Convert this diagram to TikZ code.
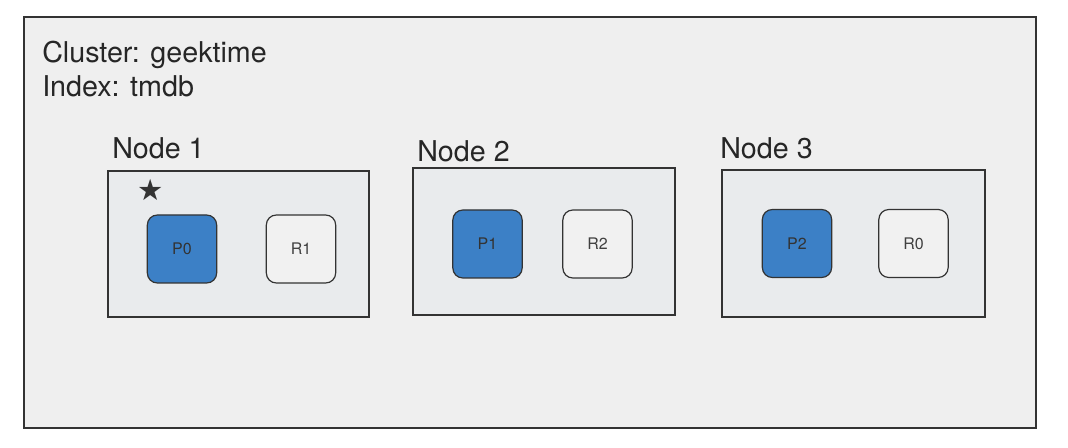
\documentclass[tikz,border=0pt]{standalone}
\usepackage{fontspec}
\setmainfont{TeX Gyre Heros}
\newfontfamily\symfont{DejaVu Sans}

\definecolor{clusterbg}{HTML}{EFEFEF}
\definecolor{hostbg}{HTML}{E9EBED}
\definecolor{primaryblue}{HTML}{3C80C6}
\definecolor{replicabg}{HTML}{F1F1F1}
\definecolor{edgegray}{HTML}{333333}

\tikzset{
	hostbox/.style={draw=edgegray, line width=0.9pt, fill=hostbg},
	hostlabel/.style={anchor=west, inner sep=0pt, font=\fontsize{21.5}{24}\selectfont, text=black!85},
	shard/.style={draw=edgegray, line width=0.9pt, rounded corners=7.5pt, minimum width=52pt, minimum height=51pt, inner sep=0pt, font=\fontsize{12}{14}\selectfont},
	primary/.style={shard, fill=primaryblue, text=black!80},
	replica/.style={shard, fill=replicabg, text=black!75}
}

\begin{document}
\begin{tikzpicture}[x=0.75pt, y=-0.75pt]
	\useasboundingbox (0,0) rectangle (1068,448);
	\fill[white] (0,0) rectangle (1068,448);

	% cluster
	\draw[draw=edgegray, line width=0.9pt, fill=clusterbg] (24,17) rectangle (1036,428);
	\node[anchor=west, inner sep=0pt, align=left, font=\fontsize{21.5}{25.5}\selectfont, text=black!85] (title) at (42,69) {Cluster: geektime\\Index: tmdb};

	% hosts
	\draw[hostbox] (108,171) rectangle (369,317);
	\draw[hostbox] (413,168) rectangle (675,315);
	\draw[hostbox] (722,170) rectangle (985,317);
	\node[hostlabel] (n1) at (112,148) {Node 1};
	\node[hostlabel] (n2) at (417,151) {Node 2};
	\node[hostlabel] (n3) at (720,148) {Node 3};

	% shards
	\node[primary] (p0) at (182,249) {P0};
	\node[replica] (r1) at (301,249) {R1};
	\node[primary] (p1) at (487.5,244) {P1};
	\node[replica] (r2) at (597.5,244) {R2};
	\node[primary] (p2) at (797,243.5) {P2};
	\node[replica] (r0) at (913.5,243.5) {R0};

	\node[inner sep=0pt, text=edgegray, font=\symfont\fontsize{22}{22}\selectfont] (star) at (151,190) {★};
\end{tikzpicture}
\end{document}
